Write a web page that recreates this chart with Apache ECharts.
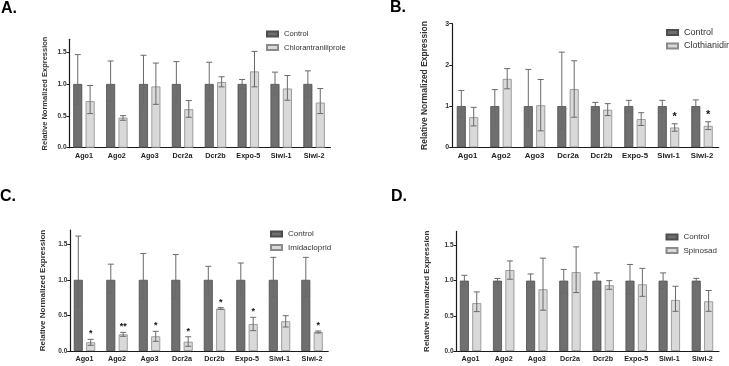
<!DOCTYPE html>
<html><head><meta charset="utf-8">
<script src="https://cdn.jsdelivr.net/npm/echarts@6/dist/echarts.min.js"></script>
<style>html,body{margin:0;padding:0;background:#fff}#c{width:729px;height:366px}</style>
</head><body><div id="c"></div>
<script>
// ---------- DATA ----------
const categories = ['Ago1','Ago2','Ago3','Dcr2a','Dcr2b','Expo-5','Siwi-1','Siwi-2'];
const panelLetters = ['A.','B.','C.','D.'];
const treatmentNames = ['Chlorantraniliprole','Clothianidin','Imidacloprid','Spinosad'];
const yTicksSmall = [0, 0.5, 1.0, 1.5];
const yTicksLarge = [0, 1, 2, 3];

// Panel A
const ctrlA     = [1, 1, 1, 1, 1, 1, 1, 1];
const ctrlA_lo  = [0.68, 0.73, 0.68, 0.73, 0.745, 0.93, 0.83, 0.81];
const ctrlA_hi  = [1.46, 1.36, 1.45, 1.35, 1.34, 1.07, 1.185, 1.205];
const trtA      = [0.73, 0.472, 0.96, 0.603, 1.028, 1.196, 0.928, 0.708];
const trtA_lo   = [0.535, 0.43, 0.68, 0.477, 0.954, 0.954, 0.745, 0.535];
const trtA_hi   = [0.975, 0.503, 1.327, 0.739, 1.112, 1.51, 1.133, 0.928];
const sigA      = ['', '', '', '', '', '', '', ''];

// Panel B
const ctrlB     = [1, 1, 1, 1, 1, 1, 1, 1];
const ctrlB_lo  = [0.73, 0.47, 0.47, 0.44, 0.90, 0.85, 0.85, 0.85];
const ctrlB_hi  = [1.38, 1.40, 1.89, 2.31, 1.09, 1.14, 1.14, 1.15];
const trtB      = [0.73, 1.66, 1.02, 1.41, 0.91, 0.685, 0.48, 0.52];
const trtB_lo   = [0.52, 1.42, 0.40, 0.73, 0.77, 0.53, 0.39, 0.43];
const trtB_hi   = [0.97, 1.91, 1.645, 2.10, 1.06, 0.84, 0.57, 0.62];
const sigB      = ['', '', '', '', '', '', '*', '*'];

// Panel C
const ctrlC     = [1, 1, 1, 1, 1, 1, 1, 1];
const ctrlC_lo  = [0.62, 0.81, 0.735, 0.735, 0.805, 0.787, 0.763, 0.763];
const ctrlC_hi  = [1.615, 1.22, 1.37, 1.355, 1.19, 1.236, 1.316, 1.316];
const trtC      = [0.122, 0.234, 0.206, 0.131, 0.595, 0.379, 0.417, 0.267];
const trtC_lo   = [0.08, 0.206, 0.136, 0.066, 0.585, 0.286, 0.337, 0.253];
const trtC_hi   = [0.164, 0.262, 0.276, 0.20, 0.609, 0.473, 0.496, 0.281];
const sigC      = ['*', '**', '*', '*', '*', '*', '', '*'];

// Panel D
const ctrlD     = [1, 1, 1, 1, 1, 1, 1, 1];
const ctrlD_lo  = [0.92, 0.97, 0.90, 0.83, 0.89, 0.805, 0.89, 0.97];
const ctrlD_hi  = [1.076, 1.03, 1.095, 1.16, 1.11, 1.23, 1.11, 1.033];
const trtD      = [0.68, 1.15, 0.877, 1.12, 0.934, 0.948, 0.725, 0.706];
const trtD_lo   = [0.56, 1.02, 0.58, 0.83, 0.877, 0.777, 0.564, 0.564];
const trtD_hi   = [0.84, 1.28, 1.32, 1.48, 1.0, 1.175, 0.92, 0.86];
const sigD      = ['', '', '', '', '', '', '', ''];

// ---------- LAYOUT / STYLE ----------
const FONT = 'Liberation Sans, Arial, sans-serif';
const CTRL_FILL = '#6f6f6f', CTRL_BORDER = '#4d4d4d';
const TRT_FILL = '#d9d9d9', TRT_BORDER = '#8a8a8a';
const ERR_COLOR = '#6a6a6a';
const BAR_W = 9, BAR_GAP = 3.4;

const panels = [
  {ctrl:ctrlA, clo:ctrlA_lo, chi:ctrlA_hi, trt:trtA, tlo:trtA_lo, thi:trtA_hi, sig:sigA, max:1.7, ticks:yTicksSmall, dec:1,
   grid:{left:67.5, top:39.3, width:263, height:108.4}, yOff:-2, legend:{left:266, top:29.5}, letter:{left:1, top:1},
   nameSize:7.5, nameGap:21, legendSize:7.6, starSize:9},
  {ctrl:ctrlB, clo:ctrlB_lo, chi:ctrlB_hi, trt:trtB, tlo:trtB_lo, thi:trtB_hi, sig:sigB, max:3, ticks:yTicksLarge, dec:0,
   grid:{left:450.75, top:23.7, width:268, height:123.6}, yOff:-1.5, legend:{left:666, top:28}, letter:{left:390, top:0},
   nameSize:8.5, nameGap:23, legendSize:9, starSize:11},
  {ctrl:ctrlC, clo:ctrlC_lo, chi:ctrlC_hi, trt:trtC, tlo:trtC_lo, thi:trtC_hi, sig:sigC, max:1.7, ticks:yTicksSmall, dec:1,
   grid:{left:68.25, top:230, width:260, height:121}, yOff:-2, legend:{left:270, top:229.5}, letter:{left:0, top:189},
   nameSize:8, nameGap:23, legendSize:8, starSize:9},
  {ctrl:ctrlD, clo:ctrlD_lo, chi:ctrlD_hi, trt:trtD, tlo:trtD_lo, thi:trtD_hi, sig:sigD, max:1.7, ticks:yTicksSmall, dec:1,
   grid:{left:454, top:231.4, width:265, height:119.6}, yOff:-2.5, legend:{left:665.5, top:232.5}, letter:{left:391, top:189},
   nameSize:8, nameGap:26, legendSize:8, starSize:9}
];

const option = {
  animation: false,
  backgroundColor: '#fff',
  textStyle: {fontFamily: FONT},
  title: [], grid: [], xAxis: [], yAxis: [], legend: [], series: []
};

function errRender(offset) {
  return function (params, api) {
    const i = api.value(0);
    const lo = api.coord([i, api.value(1)]);
    const hi = api.coord([i, api.value(2)]);
    const x = lo[0] + offset;
    const cap = 3;
    const st = {stroke: ERR_COLOR, lineWidth: 1};
    return {type: 'group', children: [
      {type: 'line', shape: {x1: x, y1: lo[1], x2: x, y2: hi[1]}, style: st},
      {type: 'line', shape: {x1: x - cap, y1: hi[1], x2: x + cap, y2: hi[1]}, style: st},
      {type: 'line', shape: {x1: x - cap, y1: lo[1], x2: x + cap, y2: lo[1]}, style: st}
    ]};
  };
}

panels.forEach(function (p, k) {
  option.title.push({text: panelLetters[k], left: p.letter.left, top: p.letter.top, padding: 0,
    textStyle: {fontSize: 16, fontWeight: 'bold', color: '#000', fontFamily: FONT}});
  option.grid.push(Object.assign({containLabel: false}, p.grid));
  option.xAxis.push({type: 'category', gridIndex: k, data: categories,
    axisLine: {lineStyle: {color: '#1a1a1a', width: 1.2}},
    axisTick: {alignWithLabel: true, length: 3, lineStyle: {color: '#1a1a1a', width: 1}},
    axisLabel: {fontSize: k === 1 ? 7.8 : 7.2, fontWeight: 'bold', color: '#222', margin: 5, interval: 0, fontFamily: FONT}});
  option.yAxis.push({type: 'value', gridIndex: k, min: 0, max: p.max, offset: p.yOff,
    name: 'Relative Normalized Expression', nameLocation: 'middle', nameGap: p.nameGap, nameRotate: 90,
    nameTextStyle: {fontSize: p.nameSize, fontWeight: 'bold', color: '#333', fontFamily: FONT},
    splitLine: {show: false},
    axisLine: {show: true, lineStyle: {color: '#1a1a1a', width: 1.2}},
    axisTick: {show: true, length: 3, customValues: p.ticks, lineStyle: {color: '#1a1a1a'}},
    axisLabel: {fontSize: k === 1 ? 7 : 6.5, fontWeight: 'bold', color: '#333', margin: 3, customValues: p.ticks,
      formatter: function (v) { return v.toFixed(p.dec); }, fontFamily: FONT}});
  option.legend.push({orient: 'vertical', left: p.legend.left, top: p.legend.top, padding: 0,
    data: ['Control', treatmentNames[k]], icon: 'rect', itemWidth: 11, itemHeight: 5, itemGap: 4.5,
    selectedMode: false,
    textStyle: {fontSize: p.legendSize, color: '#333', lineHeight: 9, fontFamily: FONT, padding: [0, 0, 0, 1]}});
  const half = (BAR_W + BAR_GAP) / 2;
  option.series.push({name: 'Control', type: 'bar', xAxisIndex: k, yAxisIndex: k, data: p.ctrl,
    barWidth: BAR_W, barGap: (BAR_GAP / BAR_W * 100) + '%',
    itemStyle: {color: CTRL_FILL, borderColor: CTRL_BORDER, borderWidth: 0.8}});
  option.series.push({name: treatmentNames[k], type: 'bar', xAxisIndex: k, yAxisIndex: k, data: p.trt,
    barWidth: BAR_W, barGap: (BAR_GAP / BAR_W * 100) + '%',
    itemStyle: {color: TRT_FILL, borderColor: TRT_BORDER, borderWidth: 0.8}});
  option.series.push({name: 'errC' + k, type: 'custom', xAxisIndex: k, yAxisIndex: k, z: 5,
    renderItem: errRender(-half), encode: {x: 0, y: [1, 2]},
    data: categories.map(function (c, i) { return [i, p.clo[i], p.chi[i]]; })});
  option.series.push({name: 'errT' + k, type: 'custom', xAxisIndex: k, yAxisIndex: k, z: 5,
    renderItem: errRender(half), encode: {x: 0, y: [1, 2]},
    data: categories.map(function (c, i) { return [i, p.tlo[i], p.thi[i]]; })});
  option.series.push({name: 'sig' + k, type: 'custom', xAxisIndex: k, yAxisIndex: k, z: 6,
    renderItem: function (params, api) {
      const i = api.value(0);
      const s = p.sig[i];
      if (!s) return null;
      const pt = api.coord([i, api.value(1)]);
      return {type: 'text', x: pt[0] + half, y: pt[1] - 1,
        style: {text: s, fontSize: p.starSize, fontWeight: 'bold', fill: '#111', align: 'center',
          verticalAlign: 'bottom', fontFamily: FONT}};
    },
    encode: {x: 0, y: 1},
    data: categories.map(function (c, i) { return [i, p.thi[i]]; })});
});

const chart = echarts.init(document.getElementById('c'), null, {renderer: 'canvas'});
chart.setOption(option);
</script>
</body></html>
